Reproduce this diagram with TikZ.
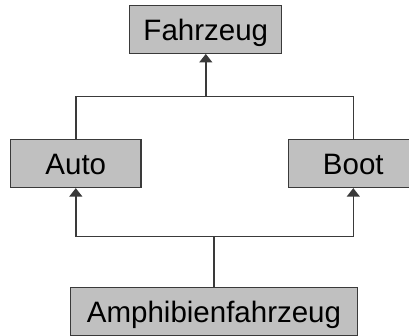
\documentclass[tikz,border=0pt]{standalone}
\usepackage{fontspec}
\setmainfont{Liberation Sans}
\usetikzlibrary{arrows.meta}
\definecolor{boxfill}{HTML}{C0C0C0}
\definecolor{edge}{HTML}{3A3A3A}
\tikzset{
  classbox/.style={draw=edge, line width=1.3pt, fill=boxfill, inner sep=0pt,
    minimum height=48pt},
  caption/.style={anchor=base, inner sep=0pt, font=\fontsize{29.5pt}{30pt}\selectfont},
  link/.style={draw=edge, line width=1.4pt},
  inherit/.style={link, -{Triangle[width=13pt,length=8.5pt]}}
}
\begin{document}
\begin{tikzpicture}[x=1pt,y=-1pt]
  \useasboundingbox (0,0) rectangle (409,335);
  \clip (0,0) rectangle (409,335);
  \fill[white] (0,0) rectangle (409,335);

  % class boxes
  \node[classbox, minimum width=152pt] (fz) at (205.8,29.3) {};
  \node[classbox, minimum width=130.3pt] (auto) at (75.8,163.5) {};
  \node[classbox, minimum width=130.3pt] (boot) at (353.3,163.5) {};
  \node[classbox, minimum width=286.6pt] (amph) at (214,311.5) {};

  % class names, baseline 35.5pt below each box top
  \node[caption] (tfz) at ([yshift=-35.5pt]fz.north) {Fahrzeug};
  \node[caption] (tauto) at ([yshift=-35.5pt]auto.north) {Auto};
  \node[caption] (tboot) at ([yshift=-35.5pt]boot.north) {Boot};
  \node[caption] (tamph) at ([yshift=-35.5pt]amph.north) {Amphibienfahrzeug};

  % junction points of the two bus lines
  \coordinate (jt) at (fz.south |- 0,96.7);
  \coordinate (jb) at (amph.north |- 0,236.7);

  % Auto and Boot inherit from Fahrzeug
  \draw[link] (auto.north) |- (jt) -| (boot.north);
  \draw[inherit] (jt) -- (fz.south);

  % Amphibienfahrzeug inherits from Auto and Boot
  \draw[link] (amph.north) -- (jb);
  \draw[inherit] (jb) -| (auto.south);
  \draw[inherit] (jb) -| (boot.south);
\end{tikzpicture}
\end{document}
